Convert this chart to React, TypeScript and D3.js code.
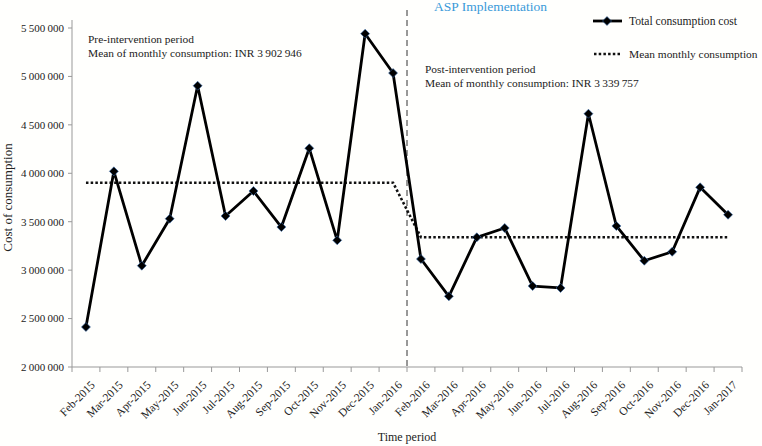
import React from "react";
import * as d3 from "d3";

const months = [
  "Feb-2015","Mar-2015","Apr-2015","May-2015","Jun-2015","Jul-2015","Aug-2015","Sep-2015","Oct-2015","Nov-2015","Dec-2015","Jan-2016",
  "Feb-2016","Mar-2016","Apr-2016","May-2016","Jun-2016","Jul-2016","Aug-2016","Sep-2016","Oct-2016","Nov-2016","Dec-2016","Jan-2017",
];
const totalCost = [
  2413000, 4020000, 3046000, 3531000, 4904000, 3559000, 3817000, 3445000, 4258000, 3308000, 5441000, 5035000,
  3115000, 2730000, 3339000, 3435000, 2836000, 2816000, 4615000, 3456000, 3097000, 3190000, 3855000, 3572000,
];
const preMean = 3902946;
const postMean = 3339757;
const meanSeries = months.map((_, i) => (i < 12 ? preMean : postMean));
const yTicks = [2000000, 2500000, 3000000, 3500000, 4000000, 4500000, 5000000, 5500000];

const W = 762, H = 446;
const left = 72, right = 742, top = 28, bottom = 367;
const FONT = "'Liberation Serif', 'Times New Roman', serif";

export default function App() {
  const x = d3.scaleBand<string>().domain(months).range([left, right]);
  const y = d3.scaleLinear().domain([2000000, 5500000]).range([bottom, top]);
  const cx = (m: string) => (x(m) as number) + x.bandwidth() / 2;
  const fmt = (v: number) => d3.format(",")(v).replace(/,/g, "\u2009");

  const line = d3.line<number>().x((_, i) => cx(months[i])).y((d) => y(d));
  const boundary = x(months[12]) as number;

  const diamond = (px: number, py: number, key: string | number) => (
    <path key={key} d={`M${px},${py - 4.5}L${px + 4.5},${py}L${px},${py + 4.5}L${px - 4.5},${py}Z`}
      fill="#000" stroke="#3b6fb0" strokeWidth={0.6} />
  );

  return (
    <svg width={W} height={H} style={{ position: "absolute", left: 0, top: 0, background: "#fffffd" }} fontFamily={FONT}>
      {/* y axis */}
      <line x1={left} x2={left} y1={20} y2={bottom} stroke="#999" strokeWidth={1} />
      {yTicks.map((t) => (
        <g key={t}>
          <line x1={left - 4} x2={left} y1={y(t)} y2={y(t)} stroke="#999" />
          <text x={left - 8} y={y(t)} dy="0.35em" textAnchor="end" fontSize={11} fill="#222">{fmt(t)}</text>
        </g>
      ))}
      {/* x axis */}
      <line x1={left} x2={right} y1={bottom} y2={bottom} stroke="#999" />
      {months.map((m) => (
        <line key={"t" + m} x1={x(m) as number} x2={x(m) as number} y1={bottom} y2={bottom + 5} stroke="#999" />
      ))}
      <line x1={right} x2={right} y1={bottom} y2={bottom + 5} stroke="#999" />
      {months.map((m) => (
        <text key={"l" + m} transform={`translate(${cx(m) + 4},${bottom + 13}) rotate(-45)`} textAnchor="end"
          dy="0.7em" fontSize={11.5} fill="#222">{m}</text>
      ))}
      {/* axis titles */}
      <text transform={`translate(12,${(top + bottom) / 2}) rotate(-90)`} textAnchor="middle" fontSize={13} fill="#222">Cost of consumption</text>
      <text x={407} y={441} textAnchor="middle" fontSize={12} fill="#222">Time period</text>

      {/* ASP dashed line */}
      <line x1={boundary} x2={boundary} y1={10} y2={bottom} stroke="#333" strokeWidth={1} strokeDasharray="6,4" />
      <text x={434} y={11} fontSize={13.5} fill="#3a9ad9">ASP Implementation</text>

      {/* mean line */}
      <path d={line(meanSeries) || ""} fill="none" stroke="#111" strokeWidth={2.6} strokeDasharray="2.5,2.2" />
      {/* total line */}
      <path d={line(totalCost) || ""} fill="none" stroke="#000" strokeWidth={2.8} strokeLinejoin="round" />
      {totalCost.map((v, i) => diamond(cx(months[i]), y(v), i))}

      {/* annotations */}
      <text x={88} y={43} fontSize={11.4} fill="#222">Pre-intervention period</text>
      <text x={88} y={57} fontSize={11.4} fill="#222">Mean of monthly consumption: INR 3{"\u2009"}902{"\u2009"}946</text>
      <text x={425} y={73} fontSize={11.4} fill="#222">Post-intervention period</text>
      <text x={425} y={87} fontSize={11.4} fill="#222">Mean of monthly consumption: INR 3{"\u2009"}339{"\u2009"}757</text>

      {/* legend */}
      <line x1={593} x2={622} y1={21} y2={21} stroke="#000" strokeWidth={2.8} />
      {diamond(607, 21, "lg")}
      <text x={629} y={25} fontSize={11.6} fill="#222">Total consumption cost</text>
      <line x1={594} x2={621} y1={54} y2={54} stroke="#111" strokeWidth={2.6} strokeDasharray="2.5,2.2" />
      <text x={629} y={58} fontSize={11.4} fill="#222">Mean monthly consumption</text>
    </svg>
  );
}
